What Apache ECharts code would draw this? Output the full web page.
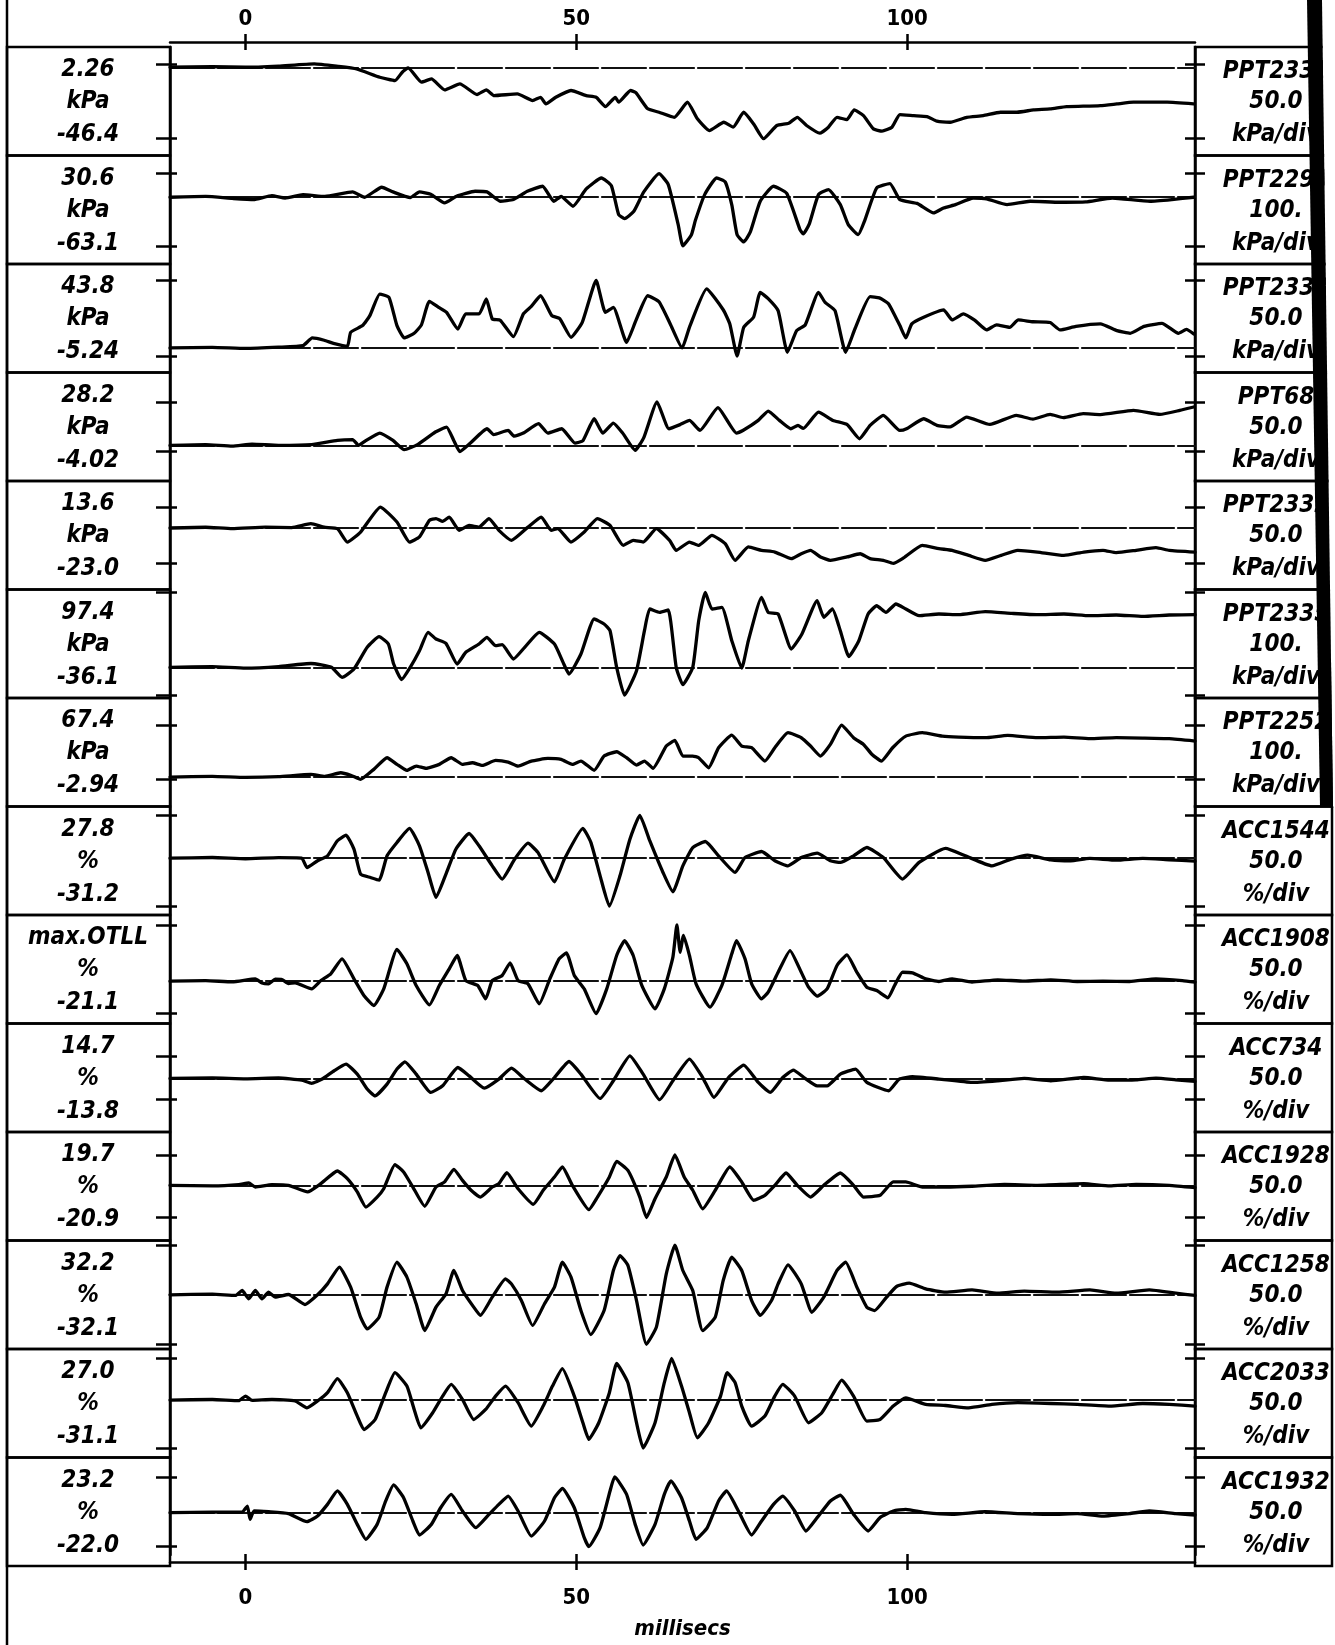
<!DOCTYPE html>
<html><head><meta charset="utf-8">
<script src="https://cdn.jsdelivr.net/npm/echarts@6.0.0/dist/echarts.min.js"></script>
<style>html,body{margin:0;padding:0;background:#fff}#c{width:1335px;height:1645px}</style>
</head><body><div id="c"></div>
<script>
// ---------------- DATA ----------------
const timeTicks = [0, 50, 100];
const channels = ['PPT2331','PPT2293','PPT2333','PPT68','PPT2332','PPT2335','PPT2252','ACC1544','ACC1908','ACC734','ACC1928','ACC1258','ACC2033','ACC1932'];
const units = ['kPa','kPa','kPa','kPa','kPa','kPa','kPa','%','%','%','%','%','%','%'];
const maxLabels = ['2.26','30.6','43.8','28.2','13.6','97.4','67.4','27.8','max.OTLL','14.7','19.7','32.2','27.0','23.2'];
const minLabels = ['-46.4','-63.1','-5.24','-4.02','-23.0','-36.1','-2.94','-31.2','-21.1','-13.8','-20.9','-32.1','-31.1','-22.0'];
const maxVals = [2.26, 30.6, 43.8, 28.2, 13.6, 97.4, 67.4, 27.8, null, 14.7, 19.7, 32.2, 27.0, 23.2];
const minVals = [-46.4, -63.1, -5.24, -4.02, -23.0, -36.1, -2.94, -31.2, -21.1, -13.8, -20.9, -32.1, -31.1, -22.0];
const scaleTexts = ['50.0','100.','50.0','50.0','50.0','100.','100.','50.0','50.0','50.0','50.0','50.0','50.0','50.0'];
const scalePerDiv = [50, 100, 50, 50, 50, 100, 100, 50, 50, 50, 50, 50, 50, 50];
const divUnits = ['kPa/div','kPa/div','kPa/div','kPa/div','kPa/div','kPa/div','kPa/div','%/div','%/div','%/div','%/div','%/div','%/div','%/div'];

const trace1 = [[-11.4,0],[-5,0.4],[0,0],[5,0.8],[10.4,2.26],[14,0.6],[16.8,-1.1],[20.3,-6.5],[22.6,-8.7],[23.7,-3.2],[24.6,-0.4],[26.6,-9.7],[28.1,-7.6],[30.1,-14.7],[32.4,-10.8],[35,-17.7],[36.4,-14.7],[37.6,-18.4],[41.1,-17.3],[43.4,-21.6],[44.6,-19.5],[45.4,-23.8],[46.9,-19.5],[49.2,-15.1],[51.5,-18.4],[53,-19.5],[54.4,-25.5],[55.9,-19.5],[56.4,-22.7],[58.2,-15.1],[59,-16.5],[60.8,-27],[62.5,-29.2],[64.8,-32.5],[66.8,-22.7],[68.3,-33.5],[70.1,-41.1],[72.3,-35.7],[73.7,-38.9],[75.3,-29.2],[76.8,-36.8],[78.3,-46.4],[80.3,-37.8],[82.1,-36.3],[83.4,-32.5],[84.8,-37.8],[86.8,-42.8],[88.1,-38.9],[89.4,-32.5],[90.9,-34],[92,-27.7],[93.4,-31.4],[94.9,-40],[96.2,-41.5],[97.7,-38.9],[98.9,-30.7],[101,-31.4],[103,-32],[104.5,-35],[106.5,-35.7],[109,-32.5],[111.5,-31.4],[114.1,-29.2],[116.6,-29.2],[119.1,-27.7],[121.6,-27],[124.1,-25.5],[126.6,-25.3],[129.2,-24.9],[131.7,-23.8],[134.2,-22.7],[136.7,-22.7],[139.3,-22.7],[143.3,-23.8]];
const trace2 = [[-11.4,0],[-6,1],[-2,-1.5],[1.2,-3.1],[4,2],[6,-1],[8.7,3.4],[12,1],[16.2,6.9],[18,0],[20.6,13],[22.3,6.9],[24.9,-0.5],[26.3,6.9],[28,4],[30.1,-7.4],[31.9,1.3],[34.7,7.8],[36.5,7],[38.5,-5.2],[40.5,-3],[42.6,7.8],[44.9,14.3],[46.6,-5.2],[47.7,1],[49.5,-11.7],[51.5,10.8],[53.8,25],[55.3,15],[56.4,-22.6],[57.3,-27.7],[58.7,-18.2],[60.2,6.9],[62.5,30.6],[63.9,16.4],[65.4,-35.6],[66.1,-63.1],[67.4,-48.6],[68,-30],[69.4,3.4],[71.2,25],[72.5,20],[73.5,-10],[74.3,-48.6],[75.3,-58],[76.3,-45],[77.8,-5.2],[79.8,14.3],[81.8,5],[83.8,-42],[84.3,-47.6],[85.2,-35],[86.6,3.4],[88.1,9.9],[89.9,-9.6],[91.1,-35.6],[92.6,-48.6],[93.6,-30],[95.4,12.1],[97.4,17.7],[98.9,-3.1],[101.5,-8],[104,-20.4],[105.5,-14],[107.3,-9.6],[110,-1],[112,-2],[115.1,-9.6],[118.6,-5.2],[123.1,-6.5],[127,-6],[131,-1],[136.7,-5.2],[140,-3],[143.3,0]];
const trace3 = [[-11.4,0],[-5,0.4],[0,-0.3],[5,0.5],[8.7,1.5],[10.1,6.5],[11.9,5],[13.3,3],[15.4,1],[15.9,10.1],[17.7,14.5],[18.8,21],[20.3,35],[21.7,32.8],[22.9,14.5],[24,6.5],[25.5,9.5],[26.6,15],[27.8,30.3],[29.2,26.4],[30.4,23.1],[32.1,12.3],[33.3,22.1],[35.3,22.1],[36.4,31.8],[37.3,18.8],[38.5,18],[40.5,7.3],[42,22.1],[43.2,27],[44.6,33.9],[46.3,21],[47.5,19],[49.2,6.9],[50.9,16.6],[53,43.8],[54.4,23.1],[55.6,26.4],[57.6,3.6],[59,17.7],[60.8,33.9],[62.5,30],[64.2,15.6],[66,0],[67.1,13.4],[69.7,38.3],[72.2,24.8],[73.2,15.6],[74.3,-5.24],[75.3,13.4],[76.8,20],[77.8,36.1],[79,32],[80.5,24.2],[81.9,-2.8],[83.3,11.2],[84.6,15],[86.6,36.1],[87.6,29.6],[89.1,24.2],[90.7,-2.8],[92.1,12.3],[94.4,33.3],[95.8,32.5],[97.2,28.6],[98.9,14.5],[99.8,6.5],[100.7,15.6],[102.5,19.9],[105.5,24.7],[106.8,18.2],[108.5,22.1],[110.2,18],[112,11.7],[113.5,15],[115.5,13.4],[116.8,18.2],[119,17],[121.6,16.5],[123.1,11.7],[125.5,14],[129.2,15.6],[131.7,11.2],[133.7,9.5],[135.8,14],[138.5,16],[141,9.5],[142.2,12],[143.3,9.1]];
const trace4 = [[-11.4,0],[-6,0.5],[-2,-0.5],[1,0.8],[5,0],[10,0.5],[13.9,3.2],[16.2,3.7],[17.1,0],[18,2.5],[20.3,8],[22.3,3.2],[24,-2.8],[26,0.5],[28.7,8.7],[30.4,11.9],[31.5,3],[32.4,-4.02],[34,1.5],[36.5,10.8],[37.5,7],[39.7,9.7],[40.6,6],[42,8],[44.3,14.1],[45.7,8],[47.8,10.8],[49.8,1.5],[51,3],[52.7,17.3],[54,8],[55.6,14.5],[57,8],[58.9,-3.2],[60.2,5],[62.2,28.2],[64,10.8],[65.7,13.5],[67.1,16.2],[68.7,9.7],[71.4,24.5],[74.2,8],[75.3,10],[77.5,16.2],[79,22.3],[80.7,16.2],[82.4,10.8],[83.5,13],[84.3,11],[86.6,21.6],[88.8,16.2],[90.9,13.6],[92.8,4.3],[94.4,13],[96.4,19.5],[98.9,9.7],[99.9,10.8],[102.5,17.3],[104.5,13],[106.5,12],[109,18.4],[112.5,13.6],[116.5,19.5],[119,17],[121.6,20.1],[123.6,18],[126.6,20.6],[129.2,20],[134.2,22.7],[138.2,20.1],[141.2,22.7],[143.3,24.9]];
const trace5 = [[-11.4,0],[-6,0.5],[-2,-0.4],[3,0.6],[7,0.3],[9.9,2.8],[11.9,0.5],[13.9,-0.4],[15.4,-9.1],[17.4,-2.6],[20.4,13.6],[22.9,3.9],[24.8,-9.1],[26.3,-5.8],[27.8,5],[28.8,6.1],[29.8,4.3],[30.8,7.1],[32.3,-1.5],[33.8,1.7],[35.3,0.6],[36.8,6.1],[38.3,-1.5],[40.2,-8],[42.7,0.6],[44.7,7.1],[46.2,-1.5],[47.2,-0.4],[49.2,-9.1],[51.2,-2.6],[53.2,6.1],[55.1,1.7],[57.1,-11.3],[58.6,-8],[60.1,-9.1],[62.1,-0.4],[64.1,-8],[65.1,-14.5],[67.1,-9.1],[68.5,-11.3],[70.5,-4.8],[72.5,-10.2],[74,-21],[76,-12.3],[78,-14.5],[80,-15.6],[82.5,-19.9],[84,-16.7],[85.4,-14.5],[86.9,-18.8],[88.4,-21],[90.9,-18.8],[92.9,-16.7],[94.4,-19.9],[96.4,-21],[97.9,-23],[99.3,-19.9],[102.3,-11.3],[104.8,-13.4],[106.8,-14.5],[109.3,-17.8],[111.8,-21],[114.2,-17.8],[116.7,-14.5],[119.7,-15.6],[123.7,-17.8],[126.7,-15.6],[129.6,-14.5],[131.6,-16],[134.6,-14.5],[137.6,-12.8],[139.6,-14.5],[143.5,-15.6]];
const trace6 = [[-11.4,0],[-5,1],[0,-1],[5,1],[9.9,5],[13,0],[14.6,-13],[16.4,-2.2],[18.4,26],[20.2,39.8],[21.6,30.3],[22.4,4.3],[23.6,-16],[24.9,0],[26.3,21.6],[27.6,45.5],[28.8,36.8],[30.3,31.2],[32,4.3],[33.3,19.5],[35.3,30.3],[36.5,39],[37.8,28.1],[38.8,29.4],[40.5,10.8],[42.2,26],[44.4,45.5],[46.7,30.3],[48,6.5],[48.9,-8.7],[50.7,17.3],[52.7,62.8],[54.2,56.3],[55.1,47.6],[56.1,0],[57.3,-36.1],[59.1,-4.3],[60.3,47.6],[61.1,75.8],[62.6,71.4],[63.9,74.5],[65.1,0],[66.1,-22.5],[67.6,0],[68.5,60.6],[69.5,97.4],[70.5,75.8],[72,78],[73.5,34.6],[75,-1],[76,34.6],[78,91],[79,71.4],[80.5,69.3],[82.5,23.8],[84.1,43.3],[86.4,86.6],[87.4,65],[88.7,75.8],[89.9,47.6],[91.2,13.9],[92.7,34.6],[94.1,69.3],[95.4,80],[96.8,71.4],[98.3,82.3],[99.8,75.8],[101.8,67.1],[104.8,69.3],[107.8,68.4],[111.8,72.3],[115.8,70.1],[119.7,68.4],[123.7,69.3],[127.6,67.1],[131.6,68],[135.6,66.2],[139.6,68],[143.5,68.4]];
const trace7 = [[-11.4,0],[-5,0.8],[0,-0.5],[5,0.5],[9.9,3.5],[12,1],[14.4,5.6],[16,2],[17.4,-2.94],[19.4,10],[21.4,25.1],[22.9,16.5],[24.4,8.7],[25.8,14.3],[27.3,11.3],[29.3,16.5],[31.1,25.1],[32.8,16.5],[34.3,18.6],[35.8,15.2],[37.8,21.6],[39.7,19.5],[41.2,14.3],[43.2,20.8],[45.7,24.2],[47.7,22.9],[49.4,16.5],[50.7,20.8],[52.7,8.7],[54.2,27.3],[56.1,32.9],[57.6,25.1],[59.1,15.6],[60.3,20.8],[61.6,11.3],[63.6,40.3],[64.9,47.6],[66.1,27.3],[67.6,27.3],[68.5,25.1],[70,12.1],[71.5,38.1],[73.5,54.5],[75,40.3],[76.5,38.1],[78.5,20.8],[80,38.1],[82,57.6],[84,51.1],[85.4,40.3],[86.9,27.3],[88.4,42.4],[90.1,67.4],[91.9,51.1],[93.4,42.4],[94.7,29.4],[96.1,20.8],[97.8,38.1],[99.8,53.2],[102.3,57.6],[105.3,53.2],[107.8,51.9],[111.8,51.1],[115.2,54.1],[119.7,51.1],[123.7,51.9],[127.6,49.8],[131.6,51.1],[135.6,50.6],[139.6,49.8],[143.5,46.8]];
const trace8 = [[-11.4,0],[-5,0.4],[0,-0.4],[5,0.3],[8.5,0],[9.3,-6.1],[10.9,-1.7],[12.4,1.5],[13.9,11.3],[15.2,14.9],[16.4,5.8],[17.4,-10.4],[18.9,-12.6],[20.2,-14.3],[21.4,1.5],[22.9,10.2],[24.8,19.3],[26.3,8],[27.6,-9.3],[28.8,-25.5],[30.3,-10.4],[31.8,5.8],[33.8,16],[35.3,8],[37.3,-5],[38.8,-13.6],[40.7,-0.6],[42.7,9.7],[44.2,3.7],[46.7,-15.4],[48.2,-0.6],[51,19.3],[52.2,10.2],[53.6,-11.5],[55,-31.2],[56.6,-11.5],[58.1,12.3],[59.6,27.8],[61.1,11.3],[63.1,-9.3],[64.6,-21.9],[66.1,-5],[67.6,6.9],[69.5,10.8],[71.5,1.5],[74,-9.3],[75.5,0.4],[78,4.3],[80,-1.7],[82,-5],[84,0.4],[86.4,3.2],[88.4,-1.7],[89.9,-2.8],[91.9,1.5],[93.9,6.9],[96.4,0.4],[99.3,-13.6],[101.8,-2.8],[105.8,6.3],[108.8,1.5],[112.8,-5],[115.7,-0.6],[118.2,1.9],[121.7,-1.1],[124.7,-1.7],[127.6,-0.2],[131.6,-1.3],[135.6,-0.2],[139.6,-1.1],[143.5,-1.9]];
const trace9 = [[-11.4,0],[-6,0.3],[-2,-0.4],[1.5,1.5],[2.5,-1.2],[3.5,-1.7],[4.5,1.3],[5.5,1.1],[6.5,-1.5],[7.5,-1.1],[10,-5],[11.4,0.4],[12.9,4.8],[14.6,14.5],[16.4,1.5],[17.9,-9.3],[19.4,-15.8],[20.9,-5],[22.9,20.6],[24.4,11.3],[25.8,-2.8],[27.8,-15.4],[29.3,-2.8],[30.8,8],[32,16.7],[33.3,0.4],[35.1,-2.8],[36.3,-11.5],[37.3,0.4],[38.8,3.7],[40,11.9],[41.2,0.4],[42.7,-1.7],[44.4,-14.7],[46,1.5],[47.4,14.5],[48.5,18.4],[49.7,3.7],[51.2,-5],[53,-21.1],[54.6,-5],[56.1,16.7],[57.3,26.4],[58.6,16.7],[59.9,-2.8],[61.9,-18],[63.3,-5],[64.6,15.6],[65.2,36.6],[65.7,18.8],[66.2,29.7],[67.1,16.7],[68.1,-1.7],[70.2,-16.9],[72,-2.8],[73.5,17.8],[74.2,26.4],[75.5,14.5],[76.5,-1.7],[78,-11.5],[79,-7.1],[80.5,5.8],[82.3,19.9],[84,5.8],[85.1,-3.9],[86.4,-9.7],[87.9,-5],[89.4,10.2],[90.9,17.1],[92.4,5.8],[93.9,-3.9],[95.4,-6.1],[97.1,-10.8],[98.1,-2.8],[99.3,5.8],[100.8,5.4],[102.8,1.5],[104.8,-0.2],[106.8,1.5],[109.8,-0.6],[113.7,0.9],[117.7,0],[121.7,0.9],[125.7,-0.2],[129.6,0],[133.6,-0.2],[137.6,1.5],[141.6,0.4],[143.5,-0.6]];
const trace10 = [[-11.4,0],[-5,0.3],[0,-0.3],[5,0.3],[8.5,-1.1],[10,-3.2],[11.6,-0.4],[13.4,5],[15.2,9.3],[16.9,2.8],[18.4,-6.9],[19.6,-11.3],[21.4,-3.7],[22.9,6.1],[24.1,10.8],[25.8,2.8],[28,-9.1],[29.8,-4.8],[32.1,7.1],[33.8,1.7],[36.1,-6.3],[38.3,-0.4],[40.2,6.7],[42.2,-0.4],[44.7,-8],[46.7,0.6],[48.9,11],[50.7,2.8],[53.6,-13],[55.6,-1.5],[58.1,14.7],[60.1,2.8],[62.6,-13.8],[64.6,-1.5],[67.1,12.6],[69.1,0.6],[70.8,-12.3],[73,0.6],[75.3,8.7],[77.5,-2.6],[79.3,-9.1],[81.2,0.6],[82.8,5.4],[84.4,0.6],[86.4,-4.8],[87.9,-4.8],[89.9,2.8],[92.2,6.1],[93.9,-2.6],[97.2,-8],[98.8,-0.4],[100.8,1.1],[104.8,-0.4],[109.8,-2.6],[113.7,-1.5],[117.7,0],[121.7,-1.5],[126.7,0.6],[130.6,-1.1],[134.6,-0.9],[137.6,0.2],[140.6,-0.9],[143.5,-1.9]];
const trace11 = [[-11.4,0],[-5,-0.4],[-1,0.4],[0.5,1.5],[1.5,-1.1],[4,0.4],[6.5,0],[9.4,-4.3],[11.4,1.1],[13.9,9.3],[15.4,4.3],[16.9,-4.3],[18.2,-14.1],[19.9,-7.6],[20.9,-2.2],[22.6,13.4],[23.9,8.7],[25.3,-1.1],[27.1,-13.6],[28.8,-1.1],[30.1,2.2],[31.5,10.4],[32.8,3.2],[34.1,-3.2],[35.5,-7.6],[37.3,-1.1],[38.3,1.1],[39.5,8.2],[41.2,-2.2],[43.5,-12.3],[45,-3.2],[46.7,5.4],[47.9,11.9],[49.4,0],[51.9,-15.8],[53.2,-7.6],[55,5.4],[56.1,15.6],[57.8,9.7],[59.6,-7.6],[60.6,-20.9],[61.9,-8.7],[63.6,5.4],[64.9,19.7],[66.3,5.4],[67.6,-3.2],[69.1,-15.2],[71,-3.2],[73.2,11.9],[75,2.2],[76.8,-9.7],[78.5,-6.5],[80,0],[81.7,8],[83.4,0],[85.4,-7.6],[87.4,0],[89.9,8],[91.9,0],[93.4,-7.6],[95.9,-6.5],[97.9,2.2],[99.8,2.2],[102.3,-1.1],[105.8,-1.1],[109.8,-0.6],[114.7,0.6],[119.7,0],[126.7,1.1],[130.6,-0.4],[134.6,0.6],[139.6,0],[143.5,-1.5]];
const trace12 = [[-11.4,0],[-5,0.4],[-1.5,-0.4],[-0.5,2.8],[0.5,-2.6],[1.5,2.8],[2.5,-2.6],[3.5,1.7],[4.5,-1.5],[6.5,0.2],[9,-6.3],[10.9,0],[12.4,7.1],[14.2,18],[15.9,5],[17.4,-14.5],[18.4,-22.1],[20.2,-14.5],[21.4,5],[22.9,21.2],[24.4,11.5],[25.8,-5.8],[27.1,-23.2],[28.8,-8],[30.3,0.6],[31.5,15.8],[32.8,2.8],[34.5,-8],[35.5,-13.4],[37.3,-1.5],[39.3,10.4],[40.2,7.1],[41.7,-3.7],[43.4,-19.9],[45.2,-5.8],[46.7,5],[47.9,21.2],[49.2,11.5],[50.7,-10.2],[52.2,-25.8],[54.2,-10.2],[55.6,15.8],[56.6,25.5],[57.8,19.1],[59.1,-3.7],[60.6,-32.1],[62.1,-21],[63.6,13.6],[64.9,32.2],[66.1,15.8],[67.6,2.8],[69.1,-23.2],[71,-14.5],[72.2,9.3],[73.5,24.5],[75,15.8],[76.5,-3.7],[77.8,-13.4],[79.5,-3.7],[80.5,7.1],[82,19.5],[84,7.1],[85.6,-11.3],[87.4,-1.5],[89.4,15.8],[90.7,21.2],[92.4,5],[93.9,-8],[95.1,-10.2],[96.9,-1.5],[98.4,5.4],[100.3,7.6],[102.8,3.9],[105.8,1.7],[109.8,3.2],[113.7,1.1],[117.7,2.4],[122.7,1.7],[127.6,3.2],[131.6,1.1],[136.6,3.2],[140.6,1.1],[143.5,-0.4]];
const trace13 = [[-11.4,0],[-5,0.4],[-1,-0.4],[0,2.6],[1,-0.2],[4,0.4],[7.5,-0.6],[9.3,-5],[10.9,-0.6],[12.4,4.8],[13.9,13.9],[15.4,4.8],[16.9,-10.4],[17.9,-19.1],[19.6,-12.6],[21.2,4.8],[22.6,17.8],[24.4,9.1],[25.5,-6.1],[26.5,-18],[28.3,-8.2],[29.8,2.6],[31.1,10.2],[32.8,0.4],[34.5,-12.6],[36.3,-6.1],[37.8,2.6],[39.3,9.1],[41.2,-1.7],[43.2,-16.9],[45,-3.9],[46.4,9.1],[47.9,20.4],[49.7,2.6],[51,-14.7],[51.9,-25.5],[53.4,-14.7],[55,4.8],[56.1,23.8],[57.8,11.3],[59.1,-14.7],[60.1,-31.1],[61.9,-14.7],[63.3,11.3],[64.4,27],[65.9,9.1],[67.1,-8.2],[68.3,-24.5],[70,-14.7],[71.8,2.6],[72.8,17.8],[74,11.3],[75,-3.9],[76.5,-16.9],[78.5,-10.4],[80,2.6],[81.2,10.2],[83,2.6],[85.1,-14.7],[87.1,-8.2],[88.9,4.8],[90.1,13],[91.9,2.6],[93.9,-13.6],[95.9,-12.6],[97.9,-3.9],[99.8,1.5],[102.8,-2.8],[105.8,-3.5],[109.3,-5],[112.8,-2.8],[116.7,-1.7],[121.7,-2.2],[125.7,-2.8],[130.6,-3.9],[135.6,-2.2],[139.6,-2.8],[143.5,-3.9]];
const trace14 = [[-11.4,0],[-5,0.4],[-0.5,0.4],[0.3,4.3],[0.7,-4.3],[1.3,1.1],[3.5,0.6],[6.5,-0.6],[9.3,-5.8],[10.9,-2.2],[12.4,5.4],[13.9,14.1],[15.4,5.4],[16.9,-7.6],[18.2,-17.3],[19.9,-7.6],[21.2,7.6],[22.4,18],[23.9,9.7],[25.3,-5.4],[26.3,-14.5],[28.1,-7.6],[29.5,3.2],[31.1,11.9],[32.8,1.1],[34.8,-9.7],[36.8,-1.1],[38.3,5.4],[39.7,10.8],[41.2,1.1],[43.2,-15.2],[45.2,-5.4],[46.7,9.7],[47.9,15.8],[49.7,3.2],[51.2,-16.2],[51.9,-22],[53.6,-9.7],[55.1,14.1],[55.8,23.2],[57.6,11.9],[58.9,-7.6],[60.1,-21],[61.9,-7.6],[63.3,11.9],[64.3,20.6],[65.9,9.7],[67.1,-5.4],[68.1,-17.3],[69.8,-9.7],[71.5,7.6],[72.7,14.1],[74.5,1.1],[76.5,-14.5],[78,-5.4],[79.8,5.4],[81.2,10.8],[83,1.1],[84.7,-11.9],[86.4,-3.2],[88.4,7.6],[89.9,11.3],[91.9,-1.1],[94.1,-11.9],[95.9,-3.2],[97.9,1.1],[99.8,2.2],[102.8,0],[106.8,-1.1],[111.8,0.6],[116.7,-0.6],[121.7,-1.1],[125.7,-0.6],[129.6,-2.2],[133.6,-0.6],[136.6,1.1],[140.6,-0.6],[143.5,-1.5]];
const traces = [trace1,trace2,trace3,trace4,trace5,trace6,trace7,trace8,trace9,trace10,trace11,trace12,trace13,trace14];

// ---------------- LAYOUT ----------------
const W = 1335, H = 1645;
const PL = 170, PR = 1195, PT = 47, PB = 1566, BOXR = 1332;
const XMIN = -11.4, XMAX = 143.5;
const N = traces.length;
const panelH = (PB - PT) / N;
const PX_PER_DIV = 77;
const FONT = '"DejaVu Sans Condensed", "DejaVu Sans", sans-serif';

const grid = [], xAxis = [], yAxis = [], series = [], graphic = [];

traces.forEach((tr, k) => {
  const vals = tr.map(p => p[1]);
  const ymax = maxVals[k] != null ? maxVals[k] : Math.max(...vals);
  const ymin = minVals[k];
  const h = (ymax - ymin) / scalePerDiv[k] * PX_PER_DIV;
  const cy = PT + panelH * (k + 0.5);
  grid.push({left: PL, right: W - PR, top: cy - h / 2, height: h});
  xAxis.push({
    type: 'value', gridIndex: k, min: XMIN, max: XMAX, position: 'bottom',
    axisLine: {show: true, onZero: true, lineStyle: {color: '#111', width: 2.2, type: [44, 4]}},
    axisTick: {show: false}, axisLabel: {show: false}, splitLine: {show: false}
  });
  const tickAxis = (pos, inside, len) => ({
    type: 'value', gridIndex: k, min: ymin, max: ymax, position: pos,
    axisLine: {show: false, onZero: false},
    axisTick: {show: true, inside: inside, length: len, customValues: [ymin, ymax], lineStyle: {color: '#000', width: 2.5}},
    axisLabel: {show: false}, splitLine: {show: false}
  });
  const yBase = yAxis.length;
  yAxis.push(tickAxis('left', false, 14));
  yAxis.push(tickAxis('left', true, 7));
  yAxis.push(tickAxis('right', false, 10));
  yAxis.push(tickAxis('right', true, 10));
  series.push({
    type: 'line', xAxisIndex: k, yAxisIndex: yBase, data: tr,
    showSymbol: false, symbol: 'none', smooth: 0.15, clip: false,
    lineStyle: {color: '#000', width: 3.3, join: 'round', cap: 'round'},
    silent: true, animation: false
  });

  // label boxes
  const y0 = PT + panelH * k;
  graphic.push({type: 'rect', shape: {x: 7, y: y0, width: PL - 7, height: panelH}, style: {fill: 'none', stroke: '#000', lineWidth: 2.5}});
  graphic.push({type: 'rect', shape: {x: PR, y: y0, width: BOXR - PR, height: panelH}, style: {fill: 'none', stroke: '#000', lineWidth: 2.5}});
  const txt = (s, x, y) => ({type: 'text', x: x, y: y, style: {
    text: s, fill: '#000', fontFamily: FONT, fontSize: 24, fontWeight: 'bold', fontStyle: 'italic',
    align: 'center', verticalAlign: 'middle', textAlign: 'center', textVerticalAlign: 'middle'}});
  [maxLabels[k], units[k], minLabels[k]].forEach((s, i) => graphic.push(txt(s, 88, cy + [-31, 1, 34][i])));
  [channels[k], scaleTexts[k], divUnits[k]].forEach((s, i) => graphic.push(txt(s, 1276, cy + [-29, 1, 34][i])));
});

// frame grid with time axes
const F = N;
grid.push({left: PL, right: W - PR, top: PT, bottom: H - PB});
const timeAxis = (pos, inside, withLabels, offset) => ({
  type: 'value', gridIndex: F, min: XMIN, max: XMAX, position: pos, offset: offset,
  axisLine: {show: withLabels, onZero: false, lineStyle: {color: '#000', width: 2.5}},
  axisTick: {show: true, inside: inside, length: 8, customValues: timeTicks, lineStyle: {color: '#000', width: 2.5}},
  axisLabel: {show: withLabels, customValues: timeTicks, color: '#000', fontFamily: FONT, fontSize: 22, fontWeight: 'bold',
              margin: pos === 'top' ? 12 : 25},
  splitLine: {show: false}
});
const topAx = timeAxis('top', false, true, 5);
const botAx = timeAxis('bottom', false, true, 7);
botAx.name = 'millisecs';
botAx.nameLocation = 'middle';
botAx.nameGap = 56;
botAx.nameTextStyle = {color: '#000', fontFamily: FONT, fontSize: 22, fontWeight: 'bold', fontStyle: 'italic'};
xAxis.push(topAx, timeAxis('top', true, false, 5), botAx, timeAxis('bottom', true, false, 7));
const frameY = pos => ({type: 'value', gridIndex: F, min: 0, max: 1, position: pos,
  axisLine: {show: true, onZero: false, lineStyle: {color: '#000', width: 2.5}}, axisTick: {show: false}, axisLabel: {show: false}, splitLine: {show: false}});
yAxis.push(frameY('left'), frameY('right'));

// outer frame line and the dark scan edge on the right
const scanBottom = PT + panelH * 7;
graphic.push({type: 'line', shape: {x1: 7, y1: 0, x2: 7, y2: H}, style: {stroke: '#000', lineWidth: 2.5}});
graphic.push({type: 'polygon', z: 99, shape: {points: [[1322, 0], [W, 0], [W, scanBottom], [1333, scanBottom]]}, style: {fill: '#fff'}});
graphic.push({type: 'polygon', z: 100, shape: {points: [[1307, 0], [1322, 0], [1333, scanBottom], [1320, scanBottom]]}, style: {fill: '#000'}});

const chart = echarts.init(document.getElementById('c'), null, {renderer: 'canvas', width: W, height: H});
chart.setOption({
  backgroundColor: '#fff',
  animation: false,
  grid: grid, xAxis: xAxis, yAxis: yAxis, series: series, graphic: graphic
});
</script></body></html>
